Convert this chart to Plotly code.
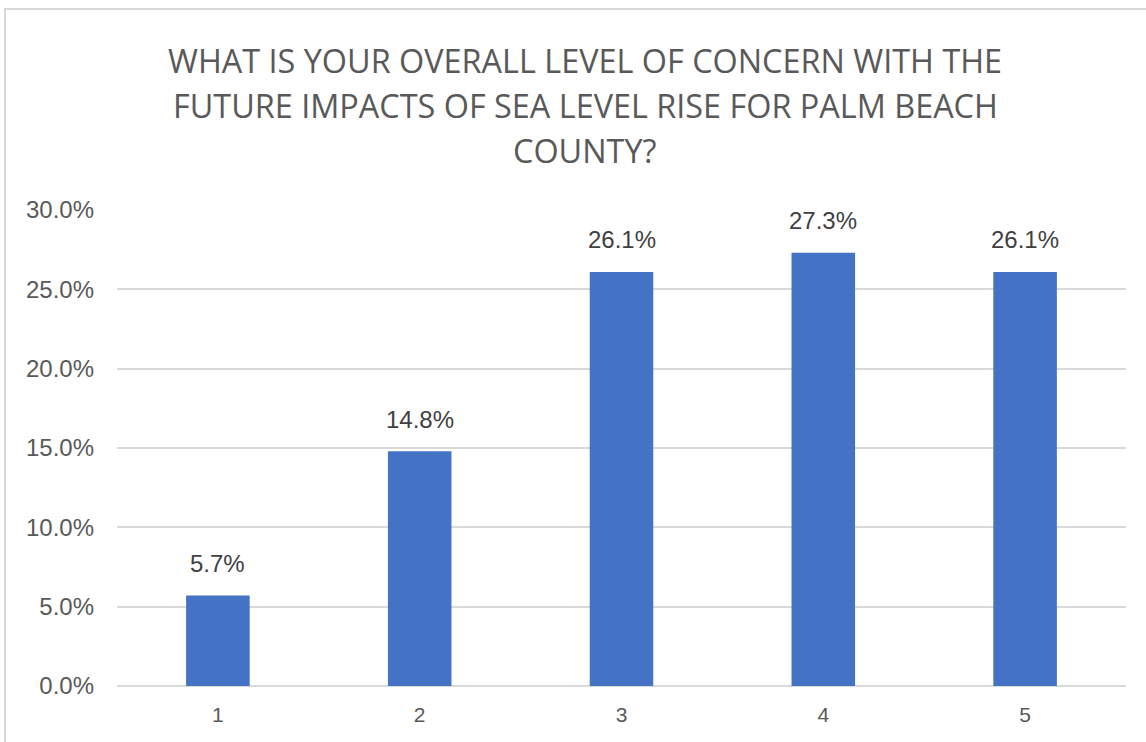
import plotly.graph_objects as go

categories = ["1", "2", "3", "4", "5"]
values = [5.7, 14.8, 26.1, 27.3, 26.1]
labels = ["5.7%", "14.8%", "26.1%", "27.3%", "26.1%"]
y_ticks = [0, 5, 10, 15, 20, 25, 30]
y_tick_labels = ["0.0%", "5.0%", "10.0%", "15.0%", "20.0%", "25.0%", "30.0%"]
title_lines = ["WHAT IS YOUR OVERALL LEVEL OF CONCERN WITH THE",
               "FUTURE IMPACTS OF SEA LEVEL RISE FOR PALM BEACH",
               "COUNTY?"]

W, H = 1146, 742
L, R, T, B = 117, 20, 210, 56
pw, ph = W - L - R, H - T - B


def px_x(px):
    return (px - L) / pw


def px_y(py):
    return (H - B - py) / ph


fig = go.Figure()
fig.add_trace(go.Bar(x=categories, y=values, marker=dict(color="#4472C4", line=dict(width=0)),
                     width=0.315, hoverinfo="skip"))

annotations = []
for i, (v, t) in enumerate(zip(values, labels)):
    annotations.append(dict(x=i, y=v, xref="x", yref="y", text=t, showarrow=False,
                            yanchor="middle", yshift=32,
                            font=dict(family="Liberation Sans, Arial", size=24, color="#404040")))

title_y = [60, 105, 150]
for line, py in zip(title_lines, title_y):
    annotations.append(dict(x=px_x(585), y=px_y(py), xref="paper", yref="paper", text=line,
                            showarrow=False, xanchor="center", yanchor="middle",
                            font=dict(family="Open Sans", size=32.4, color="#595959")))

fig.update_layout(
    width=W, height=H,
    margin=dict(l=L, r=R, t=T, b=B),
    paper_bgcolor="white", plot_bgcolor="white",
    showlegend=False,
    annotations=annotations,
    shapes=[dict(type="rect", xref="paper", yref="paper",
                 x0=px_x(5), x1=px_x(W + 40),
                 y0=px_y(H + 40), y1=px_y(9),
                 line=dict(color="#d9d9d9", width=2), fillcolor="rgba(0,0,0,0)", layer="below")],
    xaxis=dict(type="category", range=[-0.5, len(categories) - 0.5], autorange=False,
               showgrid=False, showline=False, ticks="", ticklabelstandoff=14,
               tickfont=dict(family="Liberation Sans, Arial", size=21, color="#595959")),
    yaxis=dict(range=[0, 30], tickvals=y_ticks, ticktext=y_tick_labels,
               showgrid=True, gridcolor="#d9d9d9", gridwidth=1.5,
               zeroline=True, zerolinecolor="#d9d9d9", zerolinewidth=2,
               showline=False, ticks="", ticklabelstandoff=22,
               tickfont=dict(family="Liberation Sans, Arial", size=24, color="#595959")),
)

fig.write_html("out.html")
